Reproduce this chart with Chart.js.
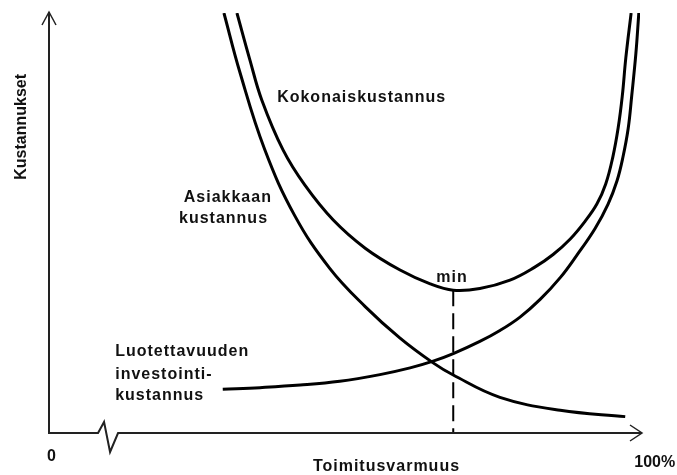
<!DOCTYPE html>
<html>
<head>
<meta charset="utf-8">
<script src="https://cdn.jsdelivr.net/npm/chart.js@4.4.1/dist/chart.umd.min.js"></script>
<style>
  html, body { margin: 0; padding: 0; background: #fff; }
  canvas { display: block; }
</style>
</head>
<body>
<canvas id="chart" width="677" height="475"></canvas>
<script>
// x = toimitusvarmuus (0..100 %), y = kustannukset (relative 0..100)
const asiakasX = [29.6, 32.3, 36.5, 41.6, 47.5, 53.5, 59.4, 65.0, 68.4, 76.3, 86.5, 97.5];
const asiakasY = [100, 85.9, 67.5, 51.7, 39.2, 30.1, 22.6, 16.7, 13.8, 8.5, 5.4, 3.9];

const kokonaisX = [31.8, 34.0, 36.0, 39.6, 43.3, 48.1, 53.5, 59.4, 64.5, 68.4, 72.9, 78.0,
  82.2, 85.3, 88.2, 90.7, 92.7, 94.2, 95.4, 96.3, 97.0, 97.6, 98.5];
const kokonaisY = [100, 88.8, 79.3, 67.4, 59.0, 50.7, 44.0, 38.8, 35.5, 34.0, 34.4, 36.4,
  39.5, 42.5, 46.2, 50.4, 54.5, 59.3, 65.7, 72.6, 80.2, 89.3, 100];

const investX = [29.4, 35.7, 42.5, 49.2, 56.0, 61.1, 65.0, 68.4, 72.9, 76.3, 79.7, 83.1,
  86.5, 89.3, 92.4, 94.6, 96.1, 97.1, 98.0, 98.6, 99.3, 99.8];
const investY = [10.4, 10.8, 11.4, 12.3, 13.9, 15.5, 17.1, 18.9, 21.8, 24.4, 27.6, 31.8,
  37.0, 42.3, 48.7, 54.5, 60.0, 65.6, 72.5, 80.3, 90.3, 100];

// minimum of the total cost, dropped to the x axis
const minX = [68.4, 68.4];
const minY = [34.0, 0];

const X_MAX = 100;
const Y_MAX = 100;
const AXIS_BREAK = 8.3;

// text, anchor in data units
const labels = [
  { text: 'Kokonaiskustannus', x: 38.6, y: 79.9, align: 'left' },
  { text: 'Asiakkaan', x: 22.8, y: 56.1, align: 'left' },
  { text: 'kustannus', x: 22.0, y: 51.0, align: 'left' },
  { text: 'min', x: 68.2, y: 37.1, align: 'center' },
  { text: 'Luotettavuuden', x: 11.2, y: 19.4, align: 'left' },
  { text: 'investointi-', x: 11.2, y: 13.8, align: 'left' },
  { text: 'kustannus', x: 11.2, y: 8.9, align: 'left' },
  { text: '0', x: 0.5, y: -5.7, align: 'center' },
  { text: '100%', x: 102.5, y: -7.1, align: 'center', spacing: 0 },
  { text: 'Toimitusvarmuus', x: 57.1, y: -7.9, align: 'center' },
  { text: 'Kustannukset', x: -4.6, y: 72.9, align: 'center', rotate: true, spacing: 0 },
];

function points(xs, ys) {
  return xs.map((x, i) => ({ x, y: ys[i] }));
}

const curve = (data) => ({
  data,
  borderColor: '#000',
  borderWidth: 3,
  pointRadius: 0,
  tension: 0.4,
  fill: false,
});

const sketchAxes = {
  id: 'sketchAxes',
  afterDatasetsDraw(chart) {
    const { ctx } = chart;
    const { x, y } = chart.scales;
    const x0 = x.getPixelForValue(0);
    const y0 = y.getPixelForValue(0);
    const xEnd = x.getPixelForValue(X_MAX) + 2;
    const yTop = y.getPixelForValue(Y_MAX) - 1;
    const bx = x.getPixelForValue(AXIS_BREAK);

    ctx.save();
    ctx.strokeStyle = '#222';
    ctx.lineWidth = 2;
    ctx.lineJoin = 'miter';
    ctx.beginPath();
    ctx.moveTo(x0, yTop);
    ctx.lineTo(x0, y0);
    ctx.lineTo(bx, y0);
    ctx.lineTo(bx + 6, y0 - 11);
    ctx.lineTo(bx + 12, y0 + 19);
    ctx.lineTo(bx + 20, y0);
    ctx.lineTo(xEnd, y0);
    ctx.stroke();

    ctx.lineWidth = 1.5;
    ctx.beginPath();
    ctx.moveTo(x0 - 7, yTop + 13);
    ctx.lineTo(x0, yTop);
    ctx.lineTo(x0 + 7, yTop + 13);
    ctx.moveTo(xEnd - 12, y0 - 8);
    ctx.lineTo(xEnd, y0);
    ctx.lineTo(xEnd - 12, y0 + 8);
    ctx.stroke();

    ctx.fillStyle = '#111';
    ctx.font = 'bold 16px "Liberation Sans", Arial, sans-serif';
    ctx.textBaseline = 'middle';
    for (const l of labels) {
      const px = x.getPixelForValue(l.x);
      const py = y.getPixelForValue(l.y);
      ctx.save();
      ctx.letterSpacing = (l.spacing ?? 1) + 'px';
      ctx.textAlign = l.align;
      ctx.translate(px, py);
      if (l.rotate) ctx.rotate(-Math.PI / 2);
      ctx.fillText(l.text, 0, 0);
      ctx.restore();
    }
    ctx.restore();
  },
};

new Chart(document.getElementById('chart'), {
  type: 'line',
  data: {
    datasets: [
      curve(points(asiakasX, asiakasY)),
      curve(points(kokonaisX, kokonaisY)),
      curve(points(investX, investY)),
      {
        data: points(minX, minY),
        borderColor: '#000',
        borderWidth: 2,
        borderDash: [16, 7],
        pointRadius: 0,
        tension: 0,
      },
    ],
  },
  options: {
    responsive: false,
    animation: false,
    devicePixelRatio: 1,
    layout: { padding: { left: 49, right: 37, top: 13, bottom: 42 } },
    plugins: {
      legend: { display: false },
      tooltip: { enabled: false },
    },
    scales: {
      x: { type: 'linear', min: 0, max: X_MAX, display: false },
      y: { type: 'linear', min: 0, max: Y_MAX, display: false },
    },
  },
  plugins: [sketchAxes],
});
</script>
</body>
</html>
